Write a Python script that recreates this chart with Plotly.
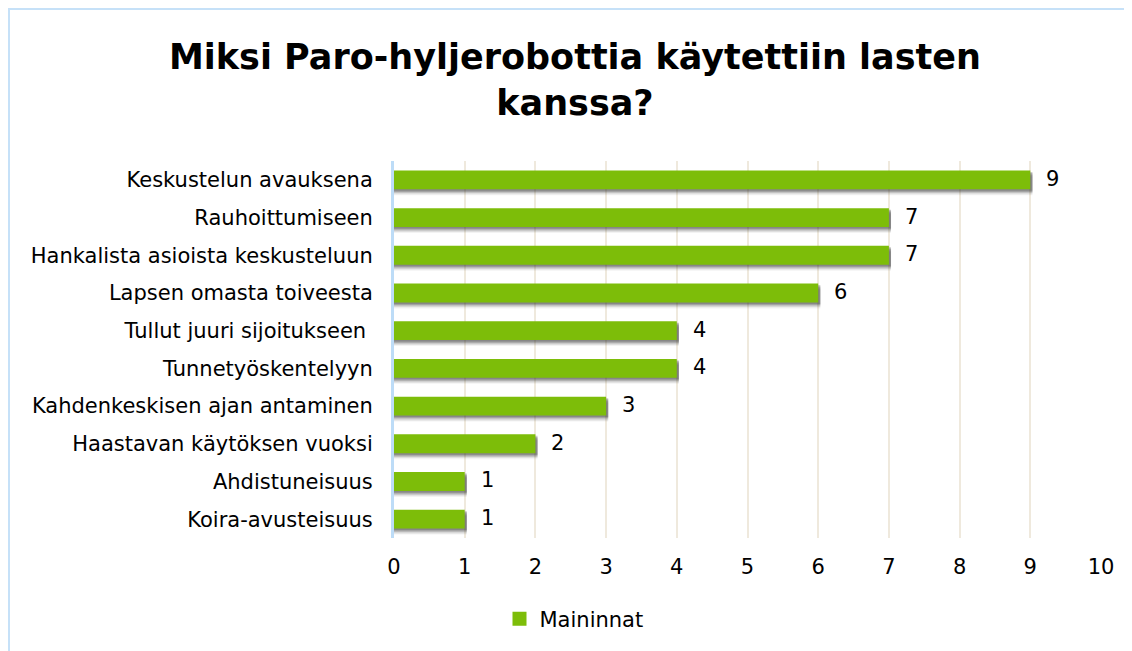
import plotly.graph_objects as go

categories = [
    "Keskustelun avauksena",
    "Rauhoittumiseen",
    "Hankalista asioista keskusteluun",
    "Lapsen omasta toiveesta",
    "Tullut juuri sijoitukseen ",
    "Tunnetyöskentelyyn",
    "Kahdenkeskisen ajan antaminen",
    "Haastavan käytöksen vuoksi",
    "Ahdistuneisuus",
    "Koira-avusteisuus",
]
values = [9, 7, 7, 6, 4, 4, 3, 2, 1, 1]
series_name = "Maininnat"
title_text = "Miksi Paro-hyljerobottia käytettiin lasten<br>kanssa?"

FONT = "DejaVu Sans"
GREEN = "#7DBD09"
L, R, T, B = 386, 39, 153, 121
W, H = 1132, 651
PW, PH = W - L - R, H - T - B

fig = go.Figure()
# soft shadow
for dy, a in [(0.16, 0.06), (0.13, 0.10), (0.10, 0.16), (0.07, 0.22), (0.04, 0.25)]:
    fig.add_trace(go.Bar(
        y=categories, x=[v + 0.03 for v in values], orientation="h",
        marker=dict(color=f"rgba(50,50,50,{a})", line=dict(width=0)),
        width=0.5, offset=-0.25 + dy,
        showlegend=False, hoverinfo="skip",
    ))
fig.add_trace(go.Bar(
    y=categories, x=values, orientation="h", name=series_name,
    marker=dict(color=GREEN, line=dict(width=0)),
    width=0.5, offset=-0.25, showlegend=False,
    hoverinfo="x+y",
))
# legend entry with a larger square symbol
fig.add_trace(go.Scatter(
    x=[None], y=[None], mode="markers", name=series_name,
    marker=dict(symbol="square", size=14, color=GREEN),
    showlegend=True,
))

annotations = [
    dict(x=v, y=c, xref="x", yref="y", text=str(v), showarrow=False,
         xanchor="left", yanchor="middle", xshift=14, yshift=1,
         font=dict(size=21, color="#000000", family=FONT))
    for c, v in zip(categories, values)
]
annotations.append(dict(
    x=(567 - L) / PW, y=1 + (T - 72) / PH, xref="paper", yref="paper",
    text="<b>" + title_text + "</b>", showarrow=False,
    xanchor="center", yanchor="middle", align="center",
    font=dict(size=35, color="#000000", family=FONT),
))

fig.update_layout(
    width=W, height=H,
    paper_bgcolor="white", plot_bgcolor="white",
    margin=dict(l=L, r=R, t=T, b=B, autoexpand=False),
    barmode="overlay",
    font=dict(family=FONT, size=21, color="#000000"),
    xaxis=dict(range=[0, 10], dtick=1, showgrid=True, gridcolor="#EFE9DD",
               gridwidth=2, zeroline=False, showline=False,
               tickfont=dict(size=21), ticks="", ticklabelstandoff=14),
    yaxis=dict(autorange="reversed", showline=True, linecolor="#BDDCF7",
               linewidth=3, ticks="", tickfont=dict(size=21),
               ticklabelstandoff=14),
    legend=dict(orientation="h", x=(566 - L) / PW, xanchor="center",
                y=-81 / PH, yanchor="middle", font=dict(size=21),
                itemwidth=30, traceorder="normal"),
    annotations=annotations,
    shapes=[dict(type="rect", xref="paper", yref="paper",
                 x0=-(L - 1) / PW, x1=1 + (R + 50) / PW,
                 y0=-(B + 50) / PH, y1=1 + (T - 1) / PH,
                 line=dict(color="#C6E1F8", width=2), layer="below")],
)

fig.write_html("out.html")
